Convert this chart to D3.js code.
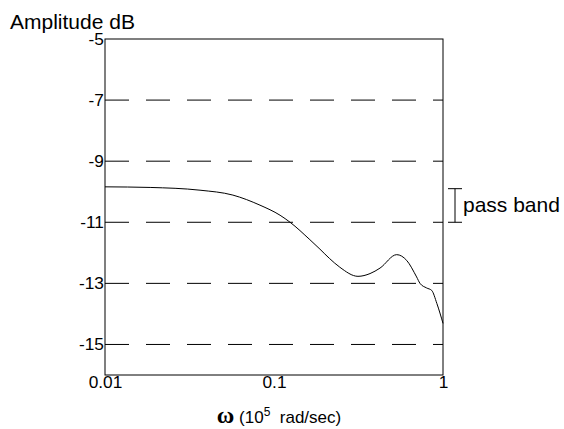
<!DOCTYPE html>
<html>
<head>
<meta charset="UTF-8">
<title>Amplitude response</title>
<script src="https://d3js.org/d3.v7.min.js"></script>
<style>
	body { margin: 0; background: #fff; }
	text { font-family: Arial, "Liberation Sans", sans-serif; fill: #000; }
</style>
</head>
<body>
<div id="chart"></div>
<script>
// values
var freq = [0.01, 0.0185, 0.0365, 0.0571, 0.0826, 0.1086, 0.1245, 0.163, 0.187, 0.2135, 0.245, 0.314, 0.37, 0.424, 0.532, 0.61, 0.698, 0.731, 0.80, 0.857, 0.92, 1.0];
var ampDb = [-9.84, -9.86, -9.95, -10.11, -10.44, -10.77, -11.0, -11.57, -11.88, -12.19, -12.47, -12.77, -12.68, -12.5, -12.06, -12.25, -12.79, -13.0, -13.15, -13.23, -13.66, -14.31];
var yTicks = [-5, -7, -9, -11, -13, -15];
var gridLines = [-7, -9, -11, -13, -15];
var xTicks = [0.01, 0.1, 1];
var passBand = [-9.9, -11];

var W = 564, H = 429;
var margin = {left: 105, right: 121, top: 39, bottom: 54};
var width = W - margin.left - margin.right;
var height = H - margin.top - margin.bottom;

var svg = d3.select("#chart").append("svg")
	.attr("width", W)
	.attr("height", H);

var g = svg.append("g")
	.attr("transform", "translate(" + margin.left + "," + margin.top + ")");

var x = d3.scaleLog().domain([0.01, 1]).range([0, width]);
var y = d3.scaleLinear().domain([-16, -5]).range([height, 0]);

// dashed grid lines
g.selectAll(".grid")
	.data(gridLines)
	.enter()
	.append("line")
		.attr("x1", 0)
		.attr("x2", width)
		.attr("y1", function(d){ return y(d); })
		.attr("y2", function(d){ return y(d); })
		.attr("stroke", "#000")
		.attr("stroke-width", 1)
		.attr("stroke-dasharray", "24,17");

// frame
g.append("rect")
	.attr("x", 0)
	.attr("y", 0)
	.attr("width", width)
	.attr("height", height)
	.attr("fill", "none")
	.attr("stroke", "#000")
	.attr("stroke-width", 1);

// y axis labels, no tick marks (plain hyphen, not the unicode minus)
// the original lettering is a bit wider than Arial, hence the x stretch
var yAxis = d3.axisLeft(y).tickValues(yTicks).tickSize(0).tickPadding(1)
	.tickFormat(function(d){ return String(d); });
var yg = g.append("g").call(yAxis);
yg.select(".domain").remove();
yg.selectAll("text")
	.attr("font-family", "Arial, 'Liberation Sans', sans-serif")
	.attr("font-size", "16px")
	.attr("dy", "0.34em")
	.attr("transform", "scale(1.08,1)");

// x axis labels
var xAxis = d3.axisBottom(x).tickValues(xTicks).tickSize(0).tickPadding(2)
	.tickFormat(function(d){ return String(d); });
var xg = g.append("g")
	.attr("transform", "translate(0," + height + ")")
	.call(xAxis);
xg.select(".domain").remove();
xg.selectAll("text")
	.attr("font-family", "Arial, 'Liberation Sans', sans-serif")
	.attr("font-size", "16px")
	.attr("transform", "scale(1.08,1)");

// curve
var line = d3.line()
	.x(function(d, i){ return x(freq[i]); })
	.y(function(d){ return y(d); })
	.curve(d3.curveMonotoneX);

g.append("path")
	.datum(ampDb)
	.attr("d", line)
	.attr("fill", "none")
	.attr("stroke", "#000")
	.attr("stroke-width", 1);

// pass band marker
var bx = width + 12;
g.append("line")
	.attr("x1", bx).attr("x2", bx)
	.attr("y1", y(passBand[0])).attr("y2", y(passBand[1]))
	.attr("stroke", "#000");
g.selectAll(".cap")
	.data(passBand)
	.enter()
	.append("line")
		.attr("x1", bx - 7).attr("x2", bx + 7)
		.attr("y1", function(d){ return y(d); })
		.attr("y2", function(d){ return y(d); })
		.attr("stroke", "#000");
g.append("text")
	.attr("x", bx + 8)
	.attr("y", (y(passBand[0]) + y(passBand[1])) / 2 + 7)
	.attr("font-size", "21px")
	.text("pass band");

// titles
svg.append("text")
	.attr("x", 10)
	.attr("y", 29)
	.attr("font-size", "21px")
	.text("Amplitude dB");

var xt = svg.append("text")
	.attr("x", margin.left + width / 2 + 5)
	.attr("y", 423)
	.attr("text-anchor", "middle")
	.attr("font-size", "17px");
xt.append("tspan")
	.attr("font-family", "'Liberation Serif', 'DejaVu Serif', serif")
	.attr("font-weight", "bold")
	.attr("font-size", "24px")
	.text("\u03c9");
xt.append("tspan").text(" (10");
xt.append("tspan").attr("font-size", "12px").attr("dy", -7).text("5");
xt.append("tspan").attr("dy", 7).text("\u00a0 rad/sec)");
</script>
</body>
</html>
